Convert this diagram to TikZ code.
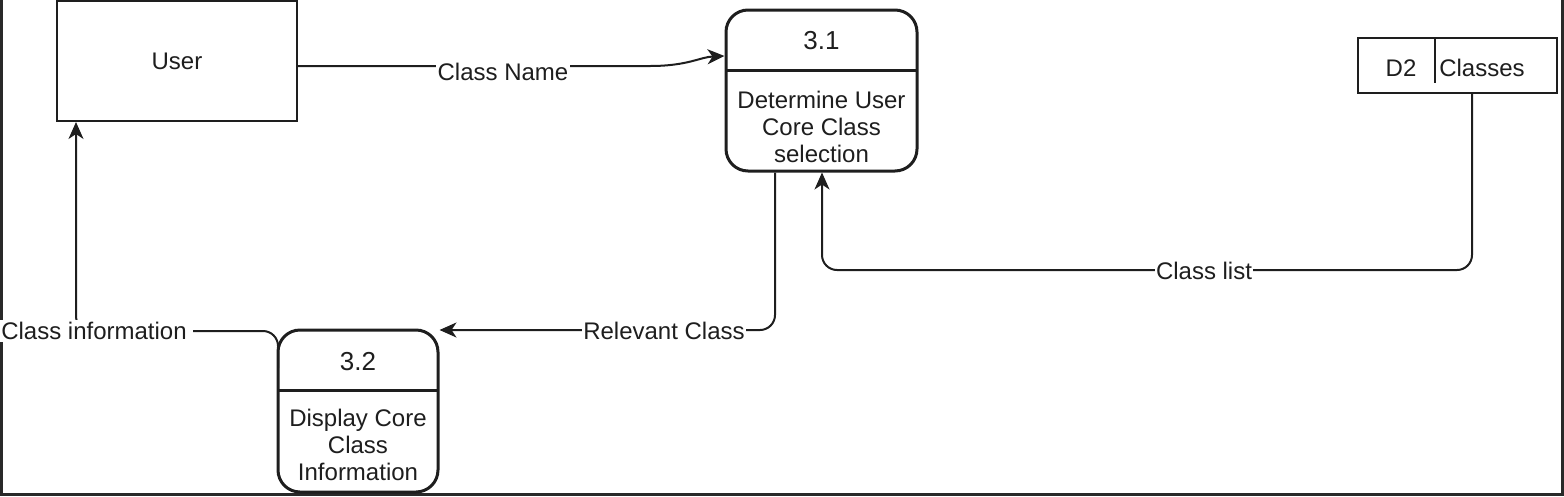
\documentclass[tikz,border=0pt]{standalone}
\usepackage{fontspec}
\setmainfont{Liberation Sans}
\usetikzlibrary{arrows.meta}
\definecolor{ink}{HTML}{1E1E1E}
\tikzset{
  txt/.style={font=\fontsize{24}{27}\selectfont, text=ink, align=center, inner sep=1pt},
  lbl/.style={font=\fontsize{24}{27}\selectfont, text=ink, fill=white, inner sep=2pt},
  proc/.style={draw=ink, line width=3pt, rounded corners=22pt, fill=white},
  entity/.style={draw=ink, line width=2pt, fill=white},
  flow/.style={draw=ink, line width=2pt, -{Stealth[length=17pt,width=15pt,inset=5pt]}},
  frameline/.style={draw=ink!95, line width=3.5pt}
}
\begin{document}
\begin{tikzpicture}[x=1pt,y=-1pt]
\useasboundingbox (0,0) rectangle (1564,496);
% frame
\coordinate (ftl) at (1.5,0);
\coordinate (fbl) at (1.5,494.5);
\coordinate (fbr) at (1562.5,494.5);
\coordinate (ftr) at (1562.5,0);
\draw[frameline] (ftl) -- (fbl) -- (fbr) -- (ftr);

% User entity
\node[entity, minimum width=240pt, minimum height=120pt] (user) at (177,61) {};
\node[txt] (usertxt) at (user.center) {User};

% Process 3.1
\node[proc, minimum width=191pt, minimum height=161pt] (p31) at (821.5,90.5) {};
\coordinate (p31dl) at (726,70);
\coordinate (p31dr) at (917,70);
\draw[ink, line width=3pt] (p31dl) -- (p31dr);
\node[txt, font=\fontsize{26}{27}\selectfont] (p31num) at (821.5,41) {3.1};
\node[txt] (p31txt) at (821.5,127) {Determine User\\Core Class\\selection};

% Process 3.2
\node[proc, minimum width=160pt, minimum height=162pt] (p32) at (358,411) {};
\coordinate (p32dl) at (278,390);
\coordinate (p32dr) at (438,390);
\draw[ink, line width=3pt] (p32dl) -- (p32dr);
\node[txt, font=\fontsize{26}{27}\selectfont] (p32num) at (358,362) {3.2};
\node[txt] (p32txt) at (358,445) {Display Core\\Class\\Information};

% Data store D2
\node[entity, line width=1.6pt, minimum width=199pt, minimum height=55pt] (d2) at (1457.5,65.5) {};
\coordinate (d2dt) at (1435,38);
\coordinate (d2db) at (1435,83);
\draw[ink, line width=1.6pt] (d2dt) -- (d2db);
\node[txt] (d2id) at (1401,68) {D2};
\node[txt] (d2name) at (1482,68) {Classes};

% Class Name flow
\coordinate (cnA) at (650,66);
\draw[flow] (user.east |- cnA) -- (cnA) .. controls (688,66) and (700,57) .. (p31.west |- 0,56);
\node[lbl] (cnlbl) at (503,72) {Class Name};

% Class list flow
\coordinate (clc) at (1472,270);
\draw[flow, rounded corners=15pt] (d2.south -| clc) -- (clc) -- (822,270) -- (p31.south -| 822,0);
\node[lbl, inner sep=1pt] (cllbl) at (1204,271) {Class list};

% Relevant Class flow
\coordinate (rcc) at (775,330);
\draw[flow, rounded corners=15pt] (p31.south -| rcc) -- (rcc) -- (p32.east |- rcc);
\node[lbl, inner sep=1pt] (rclbl) at (664,331) {Relevant Class};

% Class information flow
\coordinate (cis) at (278,368);
\coordinate (cic) at (76,331);
\draw[flow, rounded corners=15pt] (cis) -- (278,331) -- (cic) -- (user.south -| cic);
\node[lbl, inner xsep=6pt] (cilbl) at (94,331) {Class information};
\end{tikzpicture}
\end{document}
